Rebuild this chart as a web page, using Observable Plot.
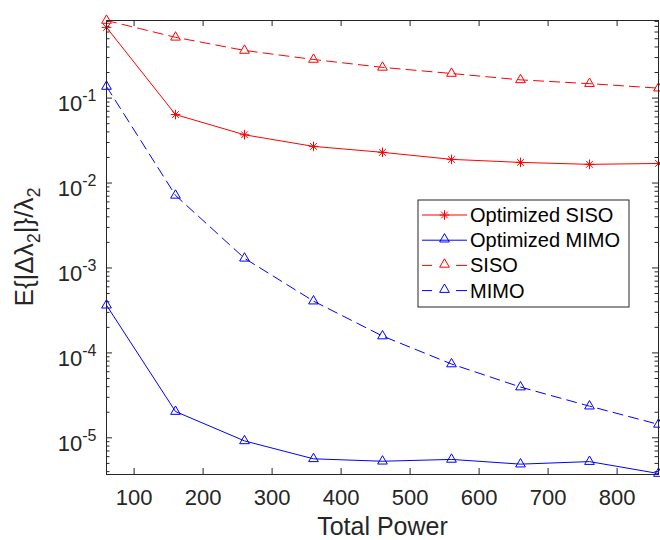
<!DOCTYPE html>
<html>
<head>
<meta charset="utf-8">
<script src="https://cdn.jsdelivr.net/npm/d3@7"></script>
<script src="https://cdn.jsdelivr.net/npm/@observablehq/plot@0.6"></script>
<style>
  html, body { margin: 0; padding: 0; background: #fff; }
  #chart { width: 660px; height: 540px; }
  svg { font-family: "Liberation Sans", Arial, Helvetica, sans-serif; }
</style>
</head>
<body>
<div id="chart"></div>
<script>
// ---- data ----
const power = [60, 160, 260, 360, 460, 560, 660, 760, 860];
const optSISO = [0.68, 0.064, 0.037, 0.027, 0.023, 0.019, 0.0175, 0.0166, 0.017];
const optMIMO = [3.64e-4, 2.04e-5, 9.2e-6, 5.66e-6, 5.3e-6, 5.57e-6, 4.9e-6, 5.25e-6, 3.8e-6];
const siso = [0.82, 0.52, 0.364, 0.285, 0.23, 0.195, 0.164, 0.148, 0.131];
const mimo = [0.137, 0.00716, 0.0013, 4.07e-4, 1.58e-4, 7.4e-5, 3.96e-5, 2.36e-5, 1.44e-5];
const seriesNames = ["Optimized SISO", "Optimized MIMO", "SISO", "MIMO"];
const xTicks = [100, 200, 300, 400, 500, 600, 700, 800];
const yTicks = [1e-5, 1e-4, 1e-3, 1e-2, 1e-1];
const xLabel = "Total Power";

// ---- layout ----
const W = 660, H = 540;
const mL = 106, mR = 2, mT = 20, mB = 66;
const plotW = W - mL - mR, plotH = H - mT - mB;
const axisColor = "#262626";

const star = {
  draw(ctx, size) {
    const r = Math.sqrt(size / Math.PI), d = r * Math.SQRT1_2;
    ctx.moveTo(0, -r); ctx.lineTo(0, r);
    ctx.moveTo(-r, 0); ctx.lineTo(r, 0);
    ctx.moveTo(-d, -d); ctx.lineTo(d, d);
    ctx.moveTo(-d, d); ctx.lineTo(d, -d);
  }
};

const series = [
  {name: seriesNames[0], values: optSISO, color: "#ff0000", dash: null, symbol: star, r: 4.8},
  {name: seriesNames[1], values: optMIMO, color: "#0000ff", dash: null, symbol: d3.symbolTriangle, r: 3.6},
  {name: seriesNames[2], values: siso, color: "#ff0000", dash: "10,6", symbol: d3.symbolTriangle, r: 3.6},
  {name: seriesNames[3], values: mimo, color: "#0000ff", dash: "10,6", symbol: d3.symbolTriangle, r: 3.6}
];

// minor log ticks
const yMinor = [];
for (let k = -6; k <= 0; k++) for (let m = 2; m <= 9; m++) {
  const v = m * Math.pow(10, k);
  if (v >= 3.7e-6 && v <= 0.82) yMinor.push(v);
}

const marks = [];
for (const s of series) {
  const rows = power.map((p, i) => ({x: p, y: s.values[i]}));
  marks.push(Plot.line(rows, {x: "x", y: "y", stroke: s.color, strokeWidth: 1, strokeDasharray: s.dash || undefined}));
}
for (const s of series) {
  const rows = power.map((p, i) => ({x: p, y: s.values[i]}));
  marks.push(Plot.dot(rows, {x: "x", y: "y", symbol: s.symbol, r: s.r, stroke: s.color, fill: "none", strokeWidth: 1}));
}

const chart = Plot.plot({
  width: W, height: H,
  marginLeft: mL, marginRight: mR, marginTop: mT, marginBottom: mB,
  style: {background: "#fff", fontFamily: '"Liberation Sans", Arial, Helvetica, sans-serif', overflow: "visible"},
  x: {domain: [60, 860]},
  y: {type: "log", domain: [3.7e-6, 0.82]},
  marks: [
    // ticks inside
    Plot.tickX(xTicks, {x: d => d, insetTop: plotH - 6, stroke: axisColor}),
    Plot.tickX(xTicks, {x: d => d, insetBottom: plotH - 6, stroke: axisColor}),
    Plot.tickY(yTicks, {y: d => d, insetRight: plotW - 6, stroke: axisColor}),
    Plot.tickY(yTicks, {y: d => d, insetLeft: plotW - 6, stroke: axisColor}),
    Plot.tickY(yMinor, {y: d => d, insetRight: plotW - 3.5, stroke: axisColor}),
    Plot.tickY(yMinor, {y: d => d, insetLeft: plotW - 3.5, stroke: axisColor}),
    Plot.axisX({ticks: xTicks, tickSize: 0, tickPadding: 15, fontSize: 22, fill: axisColor, label: null}),
    Plot.axisY({ticks: yTicks, tickSize: 0, tickPadding: 10, fontSize: 22, fill: axisColor, label: null, dy: 6,
      tickFormat: d => "10^" + Math.round(Math.log10(d))}),
    Plot.text([xLabel], {frameAnchor: "bottom", dy: 60, fontSize: 25, fill: axisColor, lineAnchor: "bottom", text: d => d}),
    ...marks,
    Plot.frame({stroke: axisColor, strokeWidth: 1})
  ]
});

document.getElementById("chart").appendChild(chart);
const svg = d3.select(chart);

// superscripts for y tick labels
svg.selectAll("text").each(function() {
  const t = d3.select(this);
  const txt = t.text();
  const m = /^10\^(-?\d+)$/.exec(txt);
  if (m) {
    t.text("10");
    t.append("tspan").attr("dy", "-10").attr("font-size", 16).text(m[1]);
  }
});

// y axis label with subscripts
const yl = svg.append("text")
  .attr("transform", `translate(33,${mT + plotH / 2}) rotate(-90)`)
  .attr("text-anchor", "middle")
  .attr("font-size", 26)
  .attr("fill", axisColor);
yl.append("tspan").text("E{|Δλ");
yl.append("tspan").attr("font-size", 18).attr("dy", 7).text("2");
yl.append("tspan").attr("dy", -7).text("|}/λ");
yl.append("tspan").attr("font-size", 18).attr("dy", 7).text("2");

// legend
const lg = svg.append("g").attr("font-size", 20).attr("text-anchor", "start");
const lx = 418, ly = 200, lw = 211, lh = 107;
lg.append("rect").attr("x", lx).attr("y", ly).attr("width", lw).attr("height", lh)
  .attr("fill", "#fff").attr("stroke", axisColor).attr("stroke-width", 1);
series.forEach((s, i) => {
  const cy = 215 + i * 25.2;
  if (s.dash) {
    lg.append("line").attr("x1", 422).attr("x2", 432).attr("y1", cy).attr("y2", cy).attr("stroke", s.color);
    lg.append("line").attr("x1", 456).attr("x2", 467).attr("y1", cy).attr("y2", cy).attr("stroke", s.color);
  } else {
    lg.append("line").attr("x1", 422).attr("x2", 467).attr("y1", cy).attr("y2", cy).attr("stroke", s.color);
  }
  lg.append("path").attr("d", d3.symbol(s.symbol, Math.PI * s.r * s.r)())
    .attr("transform", `translate(444.5,${cy - (s.symbol === star ? 0 : 1)})`)
    .attr("fill", "none").attr("stroke", s.color);
  lg.append("text").attr("x", 470).attr("y", cy).attr("dy", "0.35em").attr("text-anchor", "start")
    .attr("fill", "#000").text(s.name);
});
</script>
</body>
</html>
